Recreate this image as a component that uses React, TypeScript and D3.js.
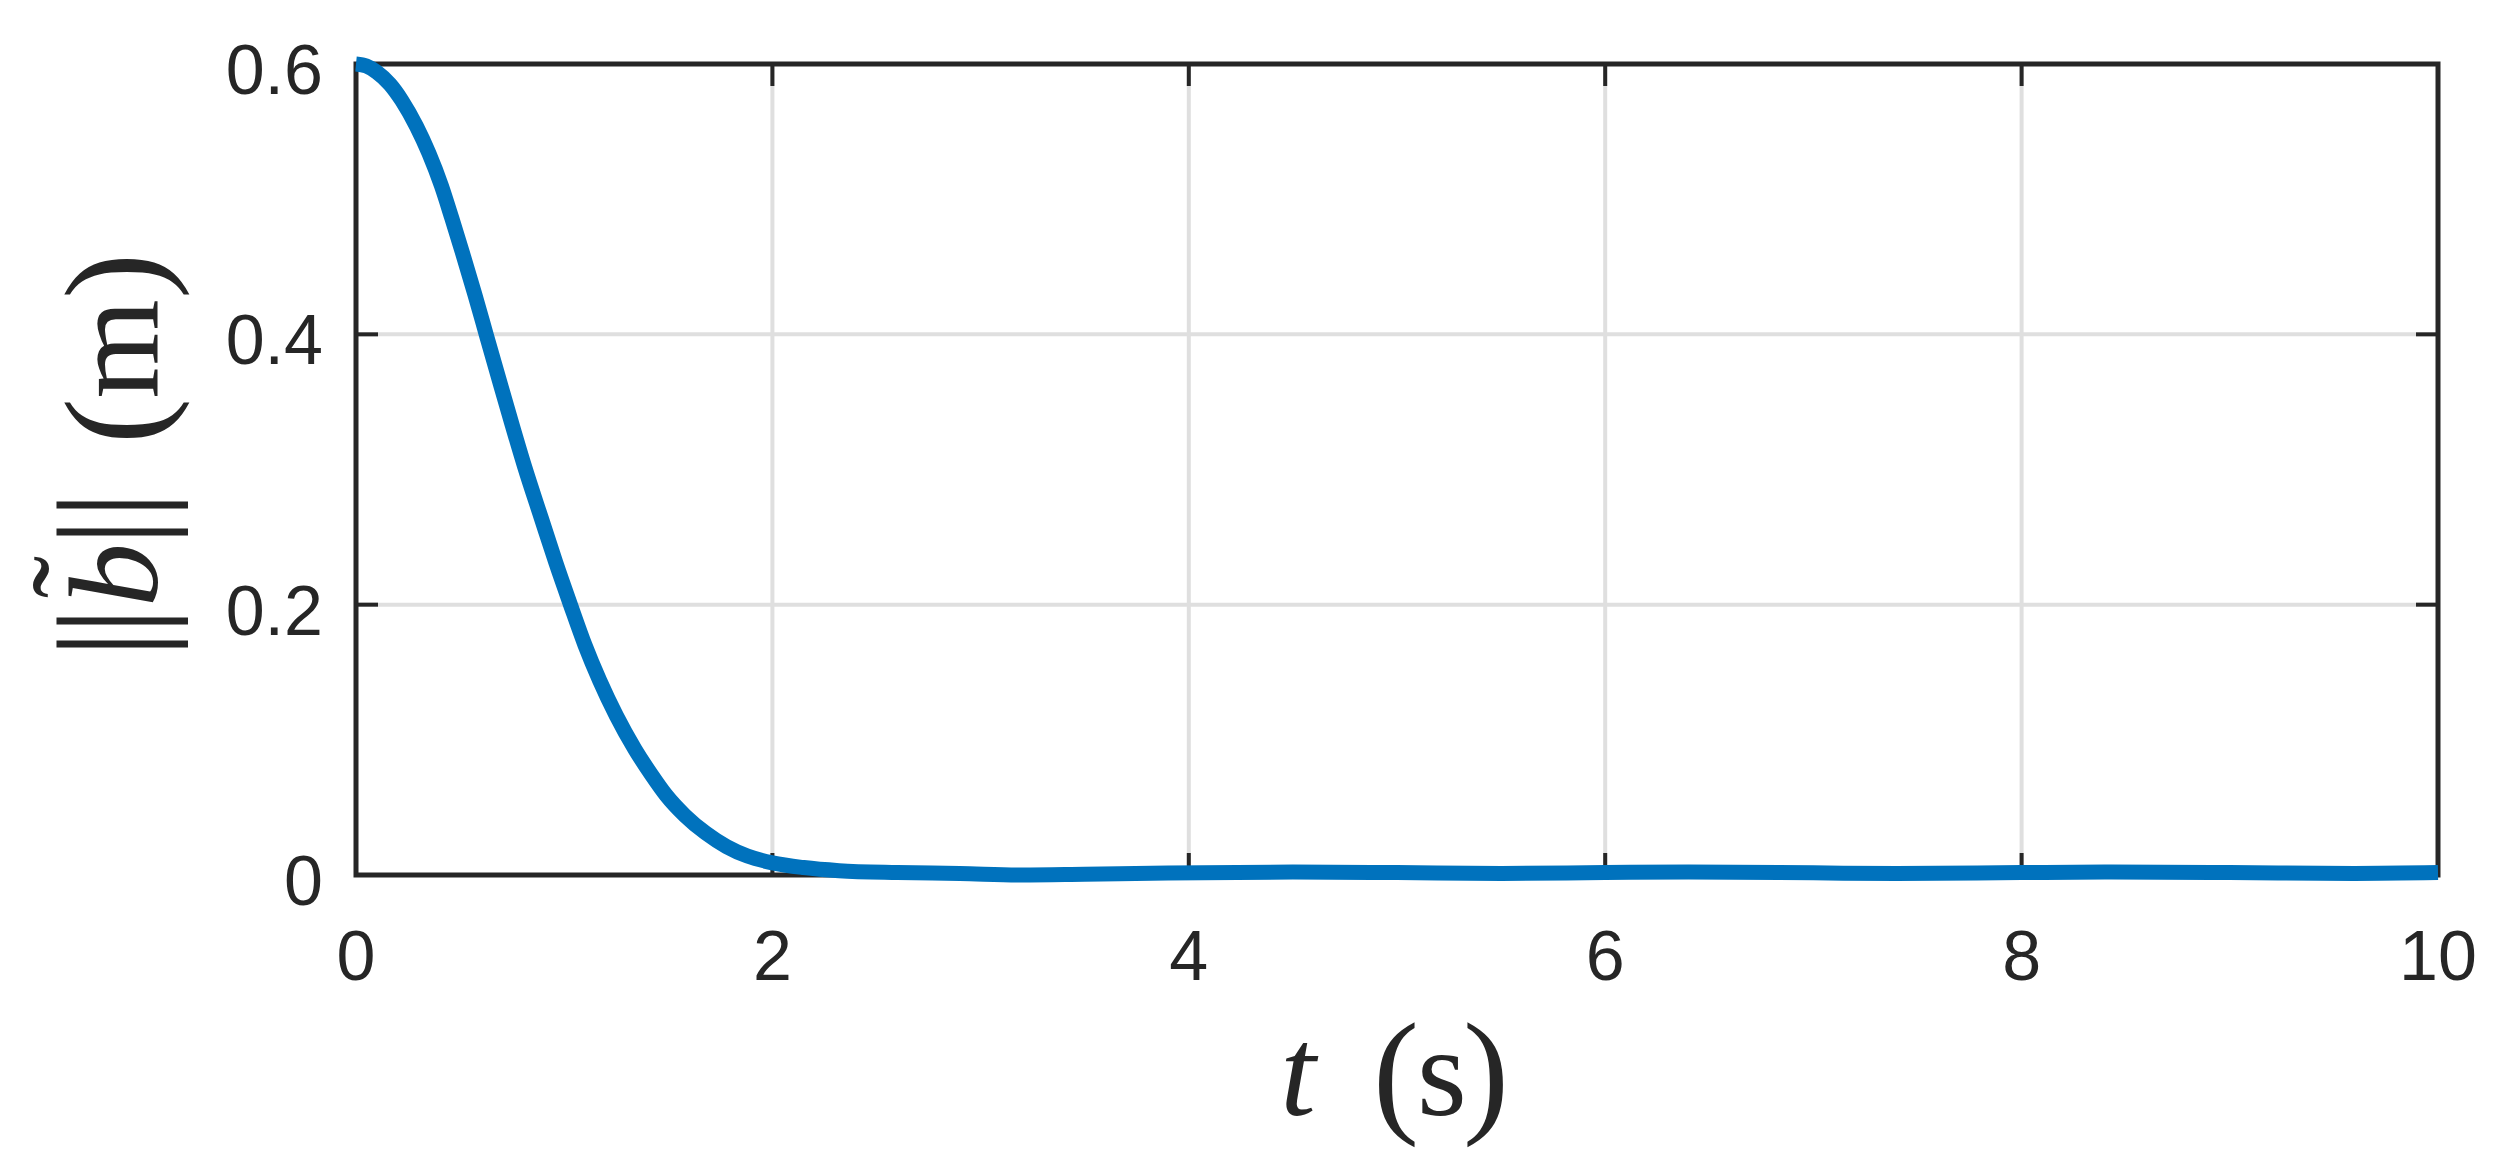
import React from 'react';
import * as d3 from 'd3';

// time samples (s) and error norm (m)
const timeData = [0, 0.05, 0.1, 0.163, 0.22, 0.29, 0.35, 0.41, 0.46, 0.51, 0.57, 0.627, 0.69, 0.75, 0.81, 0.89, 0.96, 1.03, 1.1, 1.17, 1.25, 1.34, 1.42, 1.49, 1.58, 1.68, 1.78, 1.88, 2.0, 2.15, 2.32, 2.6, 2.9, 3.2, 3.5, 3.9, 4.5, 5.0, 5.5, 6.0, 6.4, 7.0, 7.4, 8.0, 8.4, 9.0, 9.6, 10];
const errorData = [0.6, 0.5985, 0.594, 0.585, 0.573, 0.554, 0.534, 0.51, 0.486, 0.461, 0.43, 0.399, 0.365, 0.333, 0.302, 0.264, 0.231, 0.2, 0.17, 0.144, 0.118, 0.093, 0.074, 0.059, 0.044, 0.031, 0.021, 0.014, 0.009, 0.0055, 0.0032, 0.0018, 0.0011, 0.0, 0.0006, 0.0015, 0.0022, 0.0018, 0.0012, 0.0018, 0.0022, 0.0016, 0.0011, 0.0018, 0.0022, 0.0018, 0.0012, 0.0018];

const xTicks = [0, 2, 4, 6, 8, 10];
const yTicks = [0, 0.2, 0.4, 0.6];

const W = 2517;
const H = 1166;
const margin = { top: 64, right: 79, bottom: 291, left: 356 };
const ink = '#262626';
const gridColor = '#dfdfdf';
const lineColor = '#0072BD';
const tickLen = 22;
const sans = 'Liberation Sans';
const serif = "'Liberation Serif', 'Times New Roman', serif";

export default function App() {
  const x = d3.scaleLinear().domain([0, 10]).range([margin.left, W - margin.right]);
  const y = d3.scaleLinear().domain([0, 0.6]).range([H - margin.bottom, margin.top]);
  const [x0, x1] = x.range();
  const [y0, y1] = y.range();

  const pts = timeData.map((t, i) => [t, errorData[i]] as [number, number]);
  const line = d3.line<[number, number]>()
    .x(d => x(d[0]))
    .y(d => y(d[1]))
    .curve(d3.curveMonotoneX);

  const fmtY = (v: number) => (v === 0 ? '0' : d3.format('.1f')(v));

  return (
    <div style={{ position: 'absolute', left: 0, top: 0 }}>
      <svg width={W} height={H} style={{ display: 'block', background: '#fff' }}>
        {/* grid */}
        {xTicks.slice(1, -1).map(t => (
          <line key={'gx' + t} x1={x(t)} x2={x(t)} y1={y1} y2={y0} stroke={gridColor} strokeWidth={4} />
        ))}
        {yTicks.slice(1, -1).map(v => (
          <line key={'gy' + v} x1={x0} x2={x1} y1={y(v)} y2={y(v)} stroke={gridColor} strokeWidth={4} />
        ))}

        {/* ticks, inside on all four sides */}
        {xTicks.map(t => (
          <g key={'tx' + t} stroke={ink} strokeWidth={4}>
            <line x1={x(t)} x2={x(t)} y1={y0} y2={y0 - tickLen} />
            <line x1={x(t)} x2={x(t)} y1={y1} y2={y1 + tickLen} />
          </g>
        ))}
        {yTicks.map(v => (
          <g key={'ty' + v} stroke={ink} strokeWidth={4}>
            <line x1={x0} x2={x0 + tickLen} y1={y(v)} y2={y(v)} />
            <line x1={x1} x2={x1 - tickLen} y1={y(v)} y2={y(v)} />
          </g>
        ))}

        {/* box */}
        <rect x={x0} y={y1} width={x1 - x0} height={y0 - y1} fill="none" stroke={ink} strokeWidth={5} />

        {/* data */}
        <path d={line(pts) || ''} fill="none" stroke={lineColor} strokeWidth={15} strokeLinejoin="round" />

        {/* tick labels */}
        <g fontFamily={sans} fontSize={70} fill={ink}>
          {xTicks.map(t => (
            <text key={'lx' + t} x={x(t)} y={980} textAnchor="middle">{t}</text>
          ))}
          {yTicks.map(v => (
            <text key={'ly' + v} x={323} y={y(v) + 30} textAnchor="end">{fmtY(v)}</text>
          ))}
        </g>

        {/* x label */}
        <g fontFamily={serif} fill={ink}>
          <text x={1298} y={1115} fontSize={128} fontStyle="italic" textAnchor="middle">t</text>
          <text x={1396} y={1118} fontSize={138} textAnchor="middle">(</text>
          <text x={1442} y={1115} fontSize={128} textAnchor="middle">s</text>
          <text x={1486} y={1118} fontSize={138} textAnchor="middle">)</text>
        </g>

        {/* y label, rotated */}
        <g transform={`translate(157, 453) rotate(-90)`} fontFamily={serif} fill={ink}>
          <text x={-191} y={0} fontSize={145} textAnchor="middle">|</text>
          <text x={-168} y={0} fontSize={145} textAnchor="middle">|</text>
          <text x={-122} y={0} fontSize={128} fontStyle="italic" textAnchor="middle">b</text>
          <text x={-124} y={-38} fontSize={128} textAnchor="middle">˜</text>
          <text x={-79} y={0} fontSize={145} textAnchor="middle">|</text>
          <text x={-52} y={0} fontSize={145} textAnchor="middle">|</text>
          <text x={32} y={3} fontSize={138} textAnchor="middle">(</text>
          <text x={104} y={0} fontSize={128} textAnchor="middle">m</text>
          <text x={177} y={3} fontSize={138} textAnchor="middle">)</text>
        </g>
      </svg>
    </div>
  );
}
